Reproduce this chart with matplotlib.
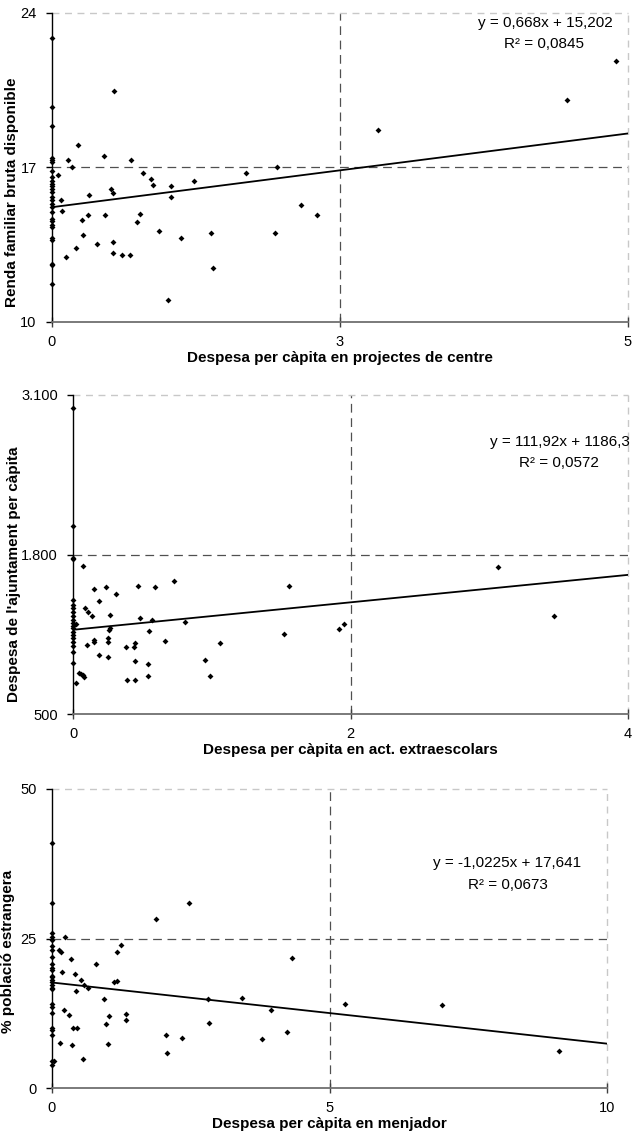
import matplotlib
matplotlib.use("Agg")
import matplotlib.pyplot as plt
import numpy as np

plt.rcParams['font.family'] = ['Liberation Sans', 'DejaVu Sans']

# ---------------- Panel 1 data ----------------
p1_x = [0]*27 + [0.05, 0.08, 0.09, 0.12, 0.14, 0.17, 0.21, 0.23, 0.26, 0.27, 0.31, 0.32, 0.39,
                 0.45, 0.46, 0.51, 0.53, 0.53, 0.53, 0.54, 0.61, 0.68, 0.69, 0.74, 0.76, 0.79,
                 0.86, 0.88, 0.93, 1.01, 1.03, 1.03, 1.12, 1.23, 1.38, 1.40, 1.68, 1.94, 1.95,
                 2.16, 2.30, 2.83, 4.47, 4.90]
p1_y = [22.85, 19.72, 18.86, 17.44, 17.32, 17.24, 16.84, 16.57, 16.41, 16.26, 16.14, 16.04,
        15.89, 15.66, 15.51, 15.36, 15.21, 14.98, 14.68, 14.57, 14.38, 14.30, 13.82, 13.73,
        12.64, 12.57, 11.74,
        16.67, 15.54, 15.04, 12.93, 17.35, 17.03, 13.35, 18.04, 14.60, 13.94, 14.84, 15.75, 13.52,
        17.51, 14.84, 16.02, 15.86, 13.64, 13.11, 20.47, 13.03, 13.03, 17.35, 14.54, 14.90, 16.76,
        16.46, 16.20, 14.12, 11.00, 15.66, 16.16, 13.80, 16.41, 14.05, 12.45, 16.76, 14.05, 17.02,
        15.31, 14.84, 18.71, 20.06, 21.84]
p1_slope, p1_icpt = 0.668, 15.202
p1_eq = ["y = 0,668x + 15,202", "R² = 0,0845"]
p1_xticks = [0, 2.5, 5]
p1_xticklabels = ["0", "3", "5"]
p1_yticks = [10, 17, 24]
p1_yticklabels = ["10", "17", "24"]
p1_xlabel = "Despesa per càpita en projectes de centre"
p1_ylabel = "Renda familiar bruta disponible"

# ---------------- Panel 2 data ----------------
p2_x = [0]*20 + [0.02, 0.02, 0.04, 0.06, 0.07, 0.07, 0.08, 0.09, 0.10, 0.11, 0.14, 0.15, 0.15,
                 0.15, 0.19, 0.19, 0.24, 0.25, 0.25, 0.25, 0.26, 0.27, 0.27, 0.31, 0.38, 0.39,
                 0.44, 0.45, 0.45, 0.45, 0.47, 0.48, 0.54, 0.54, 0.55, 0.57, 0.59, 0.66, 0.73,
                 0.81, 0.95, 0.99, 1.06, 1.52, 1.56, 1.92, 1.95, 3.06, 3.47]
p2_y = [2997, 2033, 1773, 1762, 1428, 1387, 1361, 1333, 1298, 1265, 1238, 1217, 1198, 1170,
        1143, 1116, 1089, 1054, 1008, 918,
        1233, 750, 831, 826, 817, 1710, 804, 1366, 1059, 1330, 1298, 1518, 1102, 1083, 1420,
        978, 1534, 1121, 1083, 967, 1187, 1309, 1198, 1480, 1048, 777, 1048, 1075, 932, 777,
        1545, 1284, 904, 810, 1176, 1265, 1539, 1094, 1583, 1246, 942, 812, 1081, 1154, 1542,
        1189, 1230, 1700, 1301]
p2_slope, p2_icpt = 111.92, 1186.3
p2_eq = ["y = 111,92x + 1186,3", "R² = 0,0572"]
p2_xticks = [0, 2, 4]
p2_xticklabels = ["0", "2", "4"]
p2_yticks = [500, 1800, 3100]
p2_yticklabels = ["500", "1.800", "3.100"]
p2_xlabel = "Despesa per càpita en act. extraescolars"
p2_ylabel = "Despesa de l'ajuntament per càpita"

# ---------------- Panel 3 data ----------------
p3_x = [0]*26 + [0.04, 0.12, 0.15, 0.16, 0.18, 0.22, 0.24, 0.31, 0.34, 0.36, 0.37, 0.42, 0.44,
                 0.45, 0.53, 0.55, 0.58, 0.64, 0.79, 0.94, 0.98, 1.00, 1.02, 1.12, 1.17, 1.17,
                 1.25, 1.33, 1.33, 1.88, 2.05, 2.07, 2.35, 2.46, 2.81, 2.82, 3.43, 3.78, 3.94,
                 4.24, 4.32, 5.28, 7.03, 9.13]
p3_y = [41.0, 30.9, 25.9, 25.2, 24.8, 23.8, 23.0, 21.9, 20.8, 20.0, 19.7, 18.8, 18.6, 18.1,
        17.7, 17.3, 16.8, 16.5, 14.1, 13.6, 12.6, 10.0, 9.7, 8.9, 4.5, 3.9,
        4.5, 23.1, 7.6, 22.8, 19.4, 13.0, 25.3, 12.2, 21.6, 7.2, 10.0, 19.0, 16.2, 10.0, 18.0,
        4.9, 17.3, 16.8, 20.7, 14.9, 10.7, 7.3, 12.0, 17.7, 17.9, 22.8, 23.9, 12.3, 11.4, 28.2,
        8.9, 5.9, 8.3, 31.0, 14.9, 10.8, 15.1, 8.2, 13.0, 9.4, 21.8, 14.1, 13.9, 6.2]
p3_slope, p3_icpt = -1.0225, 17.641
p3_eq = ["y = -1,0225x + 17,641", "R² = 0,0673"]
p3_xticks = [0, 5, 10]
p3_xticklabels = ["0", "5", "10"]
p3_yticks = [0, 25, 50]
p3_yticklabels = ["0", "25", "50"]
p3_xlabel = "Despesa per càpita en menjador"
p3_ylabel = "% població estrangera"

W, H = 635, 1134
fig = plt.figure(figsize=(W/100, H/100), dpi=100)

FS_TICK = 10.5
FS_LAB = 11
FS_EQ = 11

def px_axes(left, right, top, bottom):
    return fig.add_axes([left/W, 1 - bottom/H, (right-left)/W, (bottom-top)/H])

def panel(ax, box, x, y, slope, icpt, eq, eqpos, xt, xtl, yt, ytl, xl, yl, ylpos):
    left, right, top, bottom = box
    hpx = bottom - top
    ax.set_xlim(xt[0], xt[-1])
    ax.set_ylim(yt[0], yt[-1])
    # gridlines: inner dark dashed, outer edge light dashed
    for t in xt[1:-1]:
        ax.axvline(t, color='#505050', lw=0.9, dashes=(7, 4.5), zorder=1)
    for t in yt[1:-1]:
        ax.axhline(t, color='#505050', lw=0.9, dashes=(7, 4.5), zorder=1)
    ax.axvline(xt[-1], color='#c8c8c8', lw=1.0, dashes=(5, 4), zorder=1, clip_on=False)
    ax.axhline(yt[-1], color='#c8c8c8', lw=1.0, dashes=(5, 4), zorder=1, clip_on=False)
    for s in ['top', 'right']:
        ax.spines[s].set_visible(False)
    ax.spines['left'].set_color('black')
    ax.spines['left'].set_linewidth(1.0)
    ax.spines['bottom'].set_color('#707070')
    ax.spines['bottom'].set_linewidth(1.3)
    ax.spines['left'].set_zorder(3)
    ax.spines['bottom'].set_zorder(3)
    ax.scatter(x, y, marker='D', s=9, color='black', linewidths=0, zorder=5, clip_on=False)
    lx = np.array([xt[0], xt[-1]])
    ax.plot(lx, slope*lx + icpt, color='black', lw=1.3, zorder=4)
    ax.set_xticks(xt)
    ax.set_xticklabels(xtl)
    ax.set_yticks(yt)
    ax.set_yticklabels(ytl)
    ax.tick_params(axis='x', direction='inout', length=7, width=1.0, color='#404040',
                   labelsize=FS_TICK, pad=6)
    ax.tick_params(axis='y', direction='out', length=4, width=1.0, color='black',
                   labelsize=FS_TICK, pad=7)
    ax.set_xlabel(xl, fontsize=FS_LAB, fontweight='bold')
    ax.xaxis.set_label_coords(0.5, -36/hpx)
    ax.xaxis.label.set_va('center')
    fig.text(ylpos[0]/W, 1 - ylpos[1]/H, yl, rotation=90, ha='center', va='center',
             fontsize=FS_LAB, fontweight='bold')
    for txt, (ex, ey) in zip(eq, eqpos):
        fig.text(ex/W, 1 - ey/H, txt, ha='center', va='center', fontsize=FS_EQ)
    ax.set_facecolor('none')

ax1 = px_axes(52, 628, 13, 322)
panel(ax1, (52, 628, 13, 322), p1_x, p1_y, p1_slope, p1_icpt, p1_eq,
      [(545, 23), (544, 44)], p1_xticks, p1_xticklabels, p1_yticks, p1_yticklabels,
      p1_xlabel, p1_ylabel, (12, 192))

ax2 = px_axes(73, 628, 395, 714)
panel(ax2, (73, 628, 395, 714), p2_x, p2_y, p2_slope, p2_icpt, p2_eq,
      [(560, 442), (559, 463)], p2_xticks, p2_xticklabels, p2_yticks, p2_yticklabels,
      p2_xlabel, p2_ylabel, (14, 574))

ax3 = px_axes(52, 607, 789, 1088)
panel(ax3, (52, 607, 789, 1088), p3_x, p3_y, p3_slope, p3_icpt, p3_eq,
      [(507, 863), (508, 885)], p3_xticks, p3_xticklabels, p3_yticks, p3_yticklabels,
      p3_xlabel, p3_ylabel, (8, 951))

fig.savefig("out.png", dpi=100)
